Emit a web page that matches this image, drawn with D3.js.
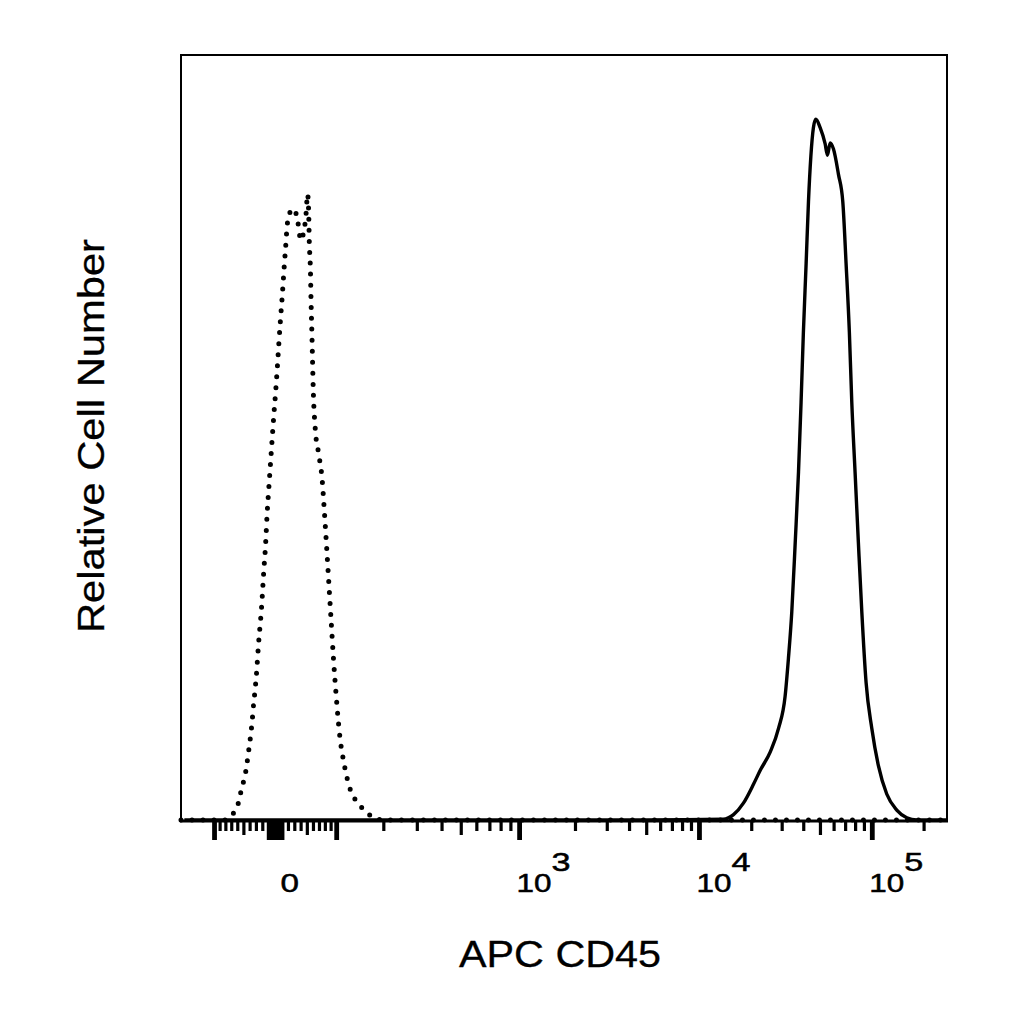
<!DOCTYPE html>
<html><head><meta charset="utf-8">
<script src="https://cdn.jsdelivr.net/npm/d3@7"></script>
<style>html,body{margin:0;padding:0;background:#fff}</style>
</head><body><svg id="c" width="1024" height="1024"></svg>
<script>
// ---- data (fluorescence value, relative cell number %) ----
const cd45X = [-160, 5000, 13700, 15700, 17900, 20500, 22400, 25600, 28600, 31200, 32600, 34100, 35700, 37300, 38600, 39800, 41300, 42600, 44000, 45500, 47000, 49800, 53200, 54900, 56900, 59500, 63600, 67400, 70400, 73600, 76000, 79400, 83000, 86900, 92000, 99300, 108500, 121300, 138700, 158600, 181200, 271800];
const cd45Y = [0, 0, 0.1, 0.7, 2.2, 4.7, 6.5, 8.9, 12.0, 16.2, 21.1, 27.2, 36.3, 45.5, 54.6, 63.7, 72.8, 80.8, 86.8, 90.5, 91.6, 90.5, 88.4, 86.9, 88.5, 87.7, 84.4, 80.8, 72.8, 63.7, 54.6, 45.5, 36.3, 27.2, 18.0, 12.0, 7.1, 3.4, 1.3, 0.3, 0, 0];
const isoX = [-167.5, -80, -72.7, -61.4, -53.1, -47.7, -42.4, -38.0, -34.3, -30.5, -26.3, -22.0, -18.4, -15.7, -13.1, -10.5, -7.9, -5.2, -2.7, 0, 2.7, 5.2, 7.9, 10.5, 13.1, 15.7, 18.4, 23.6, 28.8, 34.3, 39.6, 43.4, 47.7, 50.4, 52.2, 53.1, 55, 56, 57.7, 59.8, 63, 68.8, 74.4, 78.4, 82.5, 86, 90, 94.1, 99, 105, 114.4, 124.1, 140.9, 158.7, 174.4, 200, 271800];
const isoY = [0, 0, 0.5, 1.6, 4.3, 6.0, 9.0, 11.9, 15.2, 18.5, 23.4, 27.7, 32.6, 35.9, 40.2, 43.5, 46.7, 50.0, 53.0, 55.9, 59.2, 62.5, 65.8, 68.7, 72.0, 75.0, 78.0, 79.6, 79.9, 78.4, 75.8, 76.6, 79.0, 81.8, 79.3, 75.8, 71.9, 68.0, 62.7, 55.9, 51.1, 47.8, 44.6, 40.2, 35.3, 31.0, 26.1, 21.2, 16.3, 11.4, 7.1, 4.3, 2.2, 1.1, 0.3, 0, 0];

const xDomain = [-167.5, 271800];
const yDomain = [0, 100];
const tickLabelValues = [0, 1000, 10000, 100000];
const tickLabelBases = ["0", "10", "10", "10"];
const tickLabelExps = ["", "3", "4", "5"];
const majorTickValues = [-100, 100, 1000, 10000, 100000];
const xTitle = "APC CD45";
const yTitle = "Relative Cell Number";

// ---- biexponential (logicle-like) transform ----
const LA = 33.65, LP = 2.45;
function biexInv(u) { const a = Math.abs(u); return Math.sign(u) * LA * (Math.pow(10, a) - LP * LP * Math.pow(10, -a / LP) + LP * LP - 1); }
function biex(v) { let lo = -3, hi = 7; for (let i = 0; i < 70; i++) { const m = (lo + hi) / 2; if (biexInv(m) < v) lo = m; else hi = m; } return (lo + hi) / 2; }

const L = 181, R = 947, T = 55, B = 820;
const xLin = d3.scaleLinear().domain(xDomain.map(biex)).range([L, R]);
const x = v => xLin(biex(v));
const y = d3.scaleLinear().domain(yDomain).range([B, T]);

const svg = d3.select("#c");
const font = "'Liberation Sans', Arial, sans-serif";

// frame
const g = svg.append("g");
g.append("line").attr("x1", L).attr("x2", L).attr("y1", T).attr("y2", B + 1).attr("stroke", "#000").attr("stroke-width", 2);
g.append("line").attr("x1", R).attr("x2", R).attr("y1", T).attr("y2", B + 1).attr("stroke", "#000").attr("stroke-width", 2);
g.append("line").attr("x1", L - 1).attr("x2", R + 1).attr("y1", T).attr("y2", T).attr("stroke", "#000").attr("stroke-width", 2);

// ticks
const ticks = [];
majorTickValues.forEach(v => ticks.push({ v, k: 2 }));
for (let i = -10; i <= 10; i++) ticks.push({ v: i, k: 2 });
[10, 100, 1000, 10000].forEach(d => {
  for (let m = 2; m <= 9; m++) {
    ticks.push({ v: m * d, k: m === 5 ? 1 : 0 });
    if (d === 10) ticks.push({ v: -m * d, k: m === 5 ? 1 : 0 });
  }
});
ticks.push({ v: 200000, k: 0 });
const tickLen = [11, 15, 20], tickW = [3.2, 3.2, 4.8];
g.selectAll("line.tk").data(ticks).join("line").attr("class", "tk")
  .attr("x1", d => x(d.v)).attr("x2", d => x(d.v))
  .attr("y1", B).attr("y2", d => B + tickLen[d.k])
  .attr("stroke", "#000").attr("stroke-width", d => tickW[d.k]);

// curves
const line = d3.line().x(d => x(d[0])).y(d => y(d[1])).curve(d3.curveMonotoneX);
svg.append("path").datum(isoX.map((v, i) => [v, isoY[i]])).attr("d", line)
  .attr("fill", "none").attr("stroke", "#000").attr("stroke-width", 5)
  .attr("stroke-linecap", "round").attr("stroke-dasharray", "0 11");
svg.append("path").datum(cd45X.map((v, i) => [v, cd45Y[i]])).attr("d", line)
  .attr("fill", "none").attr("stroke", "#000").attr("stroke-width", 3.4).attr("stroke-linejoin", "round");

// axis line
svg.append("line").attr("x1", L - 1).attr("x2", R + 1).attr("y1", B + 1).attr("y2", B + 1).attr("stroke", "#000").attr("stroke-width", 3);

// tick labels
const lab = (tx, ty, txt, len) => svg.append("text").attr("x", tx).attr("y", ty)
  .attr("font-family", font).attr("font-size", 26).attr("stroke", "#000").attr("stroke-width", 0.5)
  .attr("textLength", len).attr("lengthAdjust", "spacingAndGlyphs").text(txt);
tickLabelValues.forEach((v, i) => {
  const tx = x(v);
  if (tickLabelExps[i] === "") {
    lab(tx + 5, 892, tickLabelBases[i], 18.5);
  } else {
    lab(tx - 3, 892, tickLabelBases[i], 35);
    lab(tx + 32, 871, tickLabelExps[i], 19);
  }
});

// titles
svg.append("text").attr("x", 459).attr("y", 967).attr("font-family", font).attr("font-size", 36)
  .attr("stroke", "#000").attr("stroke-width", 0.3)
  .attr("textLength", 202).attr("lengthAdjust", "spacingAndGlyphs").text(xTitle);
svg.append("text").attr("transform", "translate(104,633) rotate(-90)").attr("font-family", font).attr("font-size", 36)
  .attr("stroke", "#000").attr("stroke-width", 0.3)
  .attr("textLength", 394).attr("lengthAdjust", "spacingAndGlyphs").text(yTitle);
</script>
</body></html>
